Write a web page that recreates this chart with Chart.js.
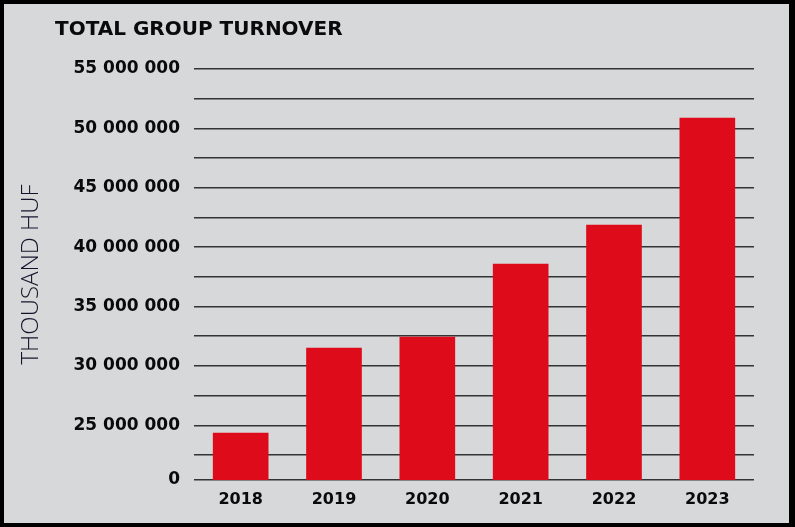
<!DOCTYPE html>
<html>
<head>
<meta charset="utf-8">
<script src="https://cdn.jsdelivr.net/npm/chart.js@4.4.1/dist/chart.umd.min.js"></script>
<style>
    html, body { margin: 0; padding: 0; background: #d7d8da; }
    #wrap { position: relative; width: 795px; height: 527px; background: #d7d8da; }
    #frame {
        position: absolute; left: 0; top: 0; width: 795px; height: 527px;
        box-sizing: border-box; border: 4px solid #000; border-right-width: 6px;
        pointer-events: none;
    }
    canvas { position: absolute; left: 0; top: 0; }
</style>
</head>
<body>
<div id="wrap">
    <canvas id="chart" width="795" height="527"></canvas>
    <div id="frame"></div>
</div>
<script>
// Chart data
const chartTitle = 'TOTAL GROUP TURNOVER';
const yTitle = 'THOUSAND HUF';
const years = ['2018', '2019', '2020', '2021', '2022', '2023'];
const turnover = [24350000, 31500000, 32430000, 38580000, 41860000, 50870000];

// the axis is cut: its bottom is labelled 0 but sits at about 20.4 million
const yMin = 20390000;
const yMax = 55000000;
const yTickValues = [20390000, 22500000, 25000000, 27500000, 30000000, 32500000, 35000000,
    37500000, 40000000, 42500000, 45000000, 47500000, 50000000, 52500000, 55000000];
const yTickLabels = ['0', '', '25 000 000', '', '30 000 000', '', '35 000 000',
    '', '40 000 000', '', '45 000 000', '', '50 000 000', '', '55 000 000'];

// title in the top left corner
const headerPlugin = {
    id: 'header',
    afterDraw(chart) {
        const ctx = chart.ctx;
        ctx.save();
        ctx.font = 'bold 20px "DejaVu Sans"';
        ctx.fillStyle = '#0a0a0a';
        ctx.textAlign = 'left';
        ctx.textBaseline = 'alphabetic';
        ctx.fillText(chartTitle, 55, 35);
        ctx.restore();
    }
};

const ctx = document.getElementById('chart').getContext('2d');
new Chart(ctx, {
    type: 'bar',
    data: {
        labels: years,
        datasets: [{
            data: turnover,
            backgroundColor: '#de0c1a',
            borderWidth: 0,
            barThickness: 55
        }]
    },
    options: {
        responsive: false,
        animation: false,
        layout: { padding: { left: 17, right: 41, top: 69, bottom: 7 } },
        plugins: {
            legend: { display: false },
            tooltip: { enabled: false }
        },
        scales: {
            x: {
                grid: { display: false, drawTicks: false },
                border: { display: false },
                ticks: {
                    color: '#0a0a0a',
                    font: { family: '"DejaVu Sans"', size: 16, weight: 'bold' },
                    padding: 10
                },
                afterFit(scale) { scale.height = 40; }
            },
            y: {
                min: yMin,
                max: yMax,
                afterBuildTicks(scale) {
                    scale.ticks = yTickValues.map(v => ({ value: v }));
                },
                grid: { color: '#333333', lineWidth: 1.4, drawTicks: false },
                border: { display: false },
                ticks: {
                    color: '#0a0a0a',
                    font: { family: '"DejaVu Sans"', size: 17, weight: 'bold' },
                    padding: 14,
                    callback: (v, i) => yTickLabels[i]
                },
                title: {
                    display: true,
                    text: yTitle,
                    color: '#12122a',
                    font: { family: '"Open Sans"', size: 24, weight: '300' },
                    padding: 0
                },
                afterFit(scale) { scale.width = 177; }
            }
        }
    },
    plugins: [headerPlugin]
});
</script>
</body>
</html>
